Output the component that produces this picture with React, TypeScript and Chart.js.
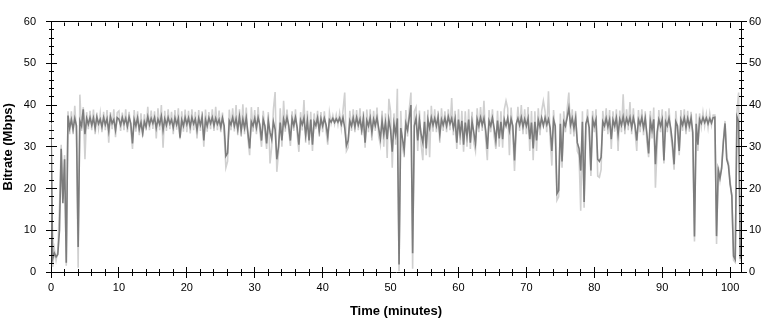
import React, { useEffect, useRef } from 'react';
import { Chart, registerables } from 'chart.js';

Chart.register(...registerables);

// sample spacing of the series (minutes)
const SAMPLE_STEP = 0.25;
const X_MIN = 0;
const X_MAX = 101.6;
const Y_MIN = 0;
const Y_MAX = 60;
const X_MAJOR = 10;
const X_MINOR = 2;
const Y_MAJOR = 10;
const Y_MINOR = 2;

const X_TITLE = 'Time (minutes)';
const Y_TITLE = 'Bitrate (Mbps)';

// Dark series (Mbps), one array per 10 minutes
const dark00 = [
  35.3, 3.2, 4.5, 3.6, 4.2, 10, 29.5, 16.5,
  27, 2.2, 37.5, 34.5, 36.5, 34.2, 36.8, 35.0,
  6.0, 36.2, 35.0, 39.0, 33.0, 36.8, 35.4, 37.0,
  35.2, 36.9, 34.5, 37.1, 35.5, 36.6, 34.8, 37.0,
  35.3, 36.7, 33.8, 37.2, 35.6, 36.5, 34.0, 37.0,
];
const dark10 = [
  36.6, 35.2, 37.0, 35.5, 36.8, 34.9, 37.1, 35.6,
  30.8, 36.5, 35.0, 36.9, 34.2, 35.8, 33.2, 36.0,
  34.8, 37.2, 35.3, 36.8, 35.6, 37.0, 34.5, 36.6,
  35.4, 37.3, 34.0, 36.7, 35.2, 37.0, 35.5, 36.5,
  34.6, 36.9, 35.3, 36.8, 32.2, 36.4, 35.0, 37.0,
];
const dark20 = [
  35.4, 36.9, 34.8, 37.0, 35.5, 36.6, 34.0, 36.8,
  35.2, 37.1, 31.5, 36.5, 35.0, 36.9, 35.6, 37.0,
  35.1, 36.8, 35.4, 36.5, 34.7, 36.9, 35.0, 27.8,
  28.5, 36.2, 35.3, 37.0, 35.0, 36.7, 34.2, 37.2,
  33.8, 36.6, 34.5, 36.9, 33.2, 29.6, 36.0, 35.0,
];
const dark30 = [
  36.8, 34.6, 37.0, 35.3, 31.5, 36.5, 35.0, 30.8,
  36.2, 33.5, 31.8, 36.0, 34.2, 27.0, 30.0, 35.8,
  31.5, 36.6, 35.0, 37.0, 35.2, 31.5, 36.7, 35.1,
  37.0, 34.6, 30.5, 36.4, 35.3, 36.9, 32.8, 36.2,
  31.5, 36.5, 30.5, 36.0, 35.1, 36.9, 33.8, 36.7,
];
const dark40 = [
  35.0, 36.8, 35.3, 32.5, 36.5, 35.9, 36.8, 35.8,
  36.7, 35.9, 36.9, 35.4, 37.0, 34.5, 30.3, 31.5,
  36.2, 35.0, 36.9, 34.8, 37.0, 35.2, 36.6, 34.0,
  36.8, 31.0, 36.3, 35.0, 36.9, 33.5, 36.6, 35.1,
  37.0, 34.5, 32.0, 36.2, 33.0, 35.8, 31.8, 36.5,
];
const dark50 = [
  34.0, 28.8, 35.5, 33.0, 36.8, 1.8, 34.5, 32.0,
  29.2, 35.6, 34.0, 37.0, 40.0, 4.5, 35.0, 36.8,
  31.5, 36.4, 33.0, 31.0, 36.0, 29.6, 36.5, 34.5,
  37.0, 35.2, 36.8, 35.0, 37.1, 33.0, 36.5, 35.2,
  36.9, 35.0, 37.2, 35.5, 36.8, 34.5, 36.6, 31.0,
];
const dark60 = [
  36.5, 33.0, 36.2, 30.5, 35.8, 32.5, 36.5, 31.0,
  36.0, 33.5, 30.8, 36.6, 35.0, 37.0, 35.2, 36.8,
  34.0, 29.5, 36.2, 35.0, 36.9, 34.5, 31.5, 36.3,
  32.0, 36.0, 31.8, 36.5, 35.0, 36.9, 34.0, 36.7,
  35.0, 26.7, 35.5, 36.8, 35.2, 37.0, 34.8, 36.6,
];
const dark70 = [
  35.0, 36.8, 31.8, 35.8, 29.6, 36.0, 31.5, 36.4,
  34.8, 36.9, 35.0, 37.0, 35.3, 36.6, 34.5, 29.0,
  36.5, 35.0, 18.8, 19.5, 35.5, 26.5, 36.0, 35.0,
  37.0, 39.3, 35.2, 36.8, 34.5, 36.9, 31.0, 29.6,
  24.3, 36.0, 16.8, 35.5, 36.8, 34.6, 24.3, 36.5,
];
const dark80 = [
  35.0, 36.5, 27.0, 26.5, 27.5, 36.0, 35.0, 36.8,
  34.8, 36.5, 31.8, 36.4, 35.0, 36.9, 33.0, 36.6,
  35.2, 37.2, 34.8, 36.8, 35.5, 37.0, 34.6, 36.9,
  35.0, 31.5, 36.5, 35.3, 37.0, 34.5, 36.8, 33.0,
  28.4, 36.2, 34.0, 36.6, 25.8, 33.5, 36.5, 35.0,
];
const dark90 = [
  36.5, 26.7, 36.0, 35.0, 36.8, 34.5, 31.0, 25.8,
  36.0, 35.0, 29.0, 36.5, 35.2, 36.9, 34.6, 36.8,
  35.0, 36.9, 33.5, 8.5, 35.5, 30.5, 36.6, 35.6,
  37.0, 35.8, 36.9, 35.5, 36.8, 35.7, 37.0, 37.1,
  8.6, 24.5, 22.5, 24.8, 31.0, 35.6, 27.0, 25.5,
];
const dark100 = [21.0, 18.3, 3.8, 3.0, 37.2, 36.0, 3.2];

// Light series (Mbps), one array per 10 minutes
const light00 = [
  35.8, 1.2, 5.5, 2.8, 5.0, 15.5, 30.5, 17.5,
  28, 1.5, 38.5, 33.0, 38.5, 33.0, 39.8, 33.5,
  1.0, 42.5, 33.8, 39.5, 27.0, 38.3, 34.2, 38.6,
  34.0, 38.9, 33.0, 38.2, 34.5, 38.0, 33.5, 38.4,
  34.0, 38.8, 31.0, 38.3, 34.2, 39.0, 32.3, 38.2,
];
const light10 = [
  38.6, 33.8, 38.2, 34.0, 39.0, 33.5, 38.4, 34.2,
  29.5, 38.8, 33.6, 38.5, 32.8, 38.0, 32.4, 37.8,
  33.9, 39.6, 34.0, 38.7, 34.3, 38.5, 32.0, 39.2,
  34.0, 40.0, 29.8, 38.6, 33.8, 39.0, 34.2, 38.4,
  33.0, 38.8, 34.1, 39.2, 31.8, 38.5, 33.6, 38.9,
];
const light20 = [
  33.5, 38.6, 33.2, 39.0, 34.0, 38.4, 32.0, 38.8,
  33.8, 38.5, 30.0, 38.9, 33.6, 38.3, 34.2, 39.0,
  33.8, 39.6, 34.0, 38.7, 33.5, 38.2, 33.0, 25.0,
  26.5, 38.9, 34.0, 39.2, 33.7, 40.0, 32.8, 39.0,
  32.5, 40.2, 33.0, 39.4, 32.0, 28.0, 39.5, 33.6,
];
const light30 = [
  38.8, 33.0, 39.5, 33.8, 30.0, 38.6, 33.5, 29.5,
  38.3, 26.0, 30.0, 39.0, 43.1, 24.0, 28.5, 39.2,
  30.0, 41.0, 33.6, 38.9, 34.0, 30.2, 38.5, 33.8,
  39.0, 33.0, 28.8, 38.3, 33.9, 41.2, 31.0, 38.6,
  30.5, 38.4, 29.0, 38.0, 34.2, 38.6, 32.5, 38.3,
];
const light40 = [
  33.5, 38.5, 33.8, 30.5, 38.2, 35.6, 37.5, 35.4,
  37.6, 35.3, 38.0, 34.5, 38.8, 43.0, 29.0, 29.8,
  38.6, 33.8, 39.0, 33.5, 38.8, 34.0, 39.2, 32.8,
  38.5, 29.8, 38.9, 33.5, 39.0, 31.5, 38.6, 33.8,
  39.4, 32.5, 30.5, 38.6, 30.0, 38.0, 27.3, 41.5,
];
const light50 = [
  38.5, 25.0, 38.0, 30.5, 43.9, 0.2, 38.6, 30.0,
  27.5, 38.8, 32.5, 39.0, 43.0, 0.8, 38.5, 39.5,
  29.0, 38.7, 30.5, 26.8, 38.5, 28.0, 38.9, 27.5,
  39.8, 33.6, 39.0, 33.5, 38.6, 31.0, 39.2, 33.8,
  38.5, 33.5, 39.0, 34.0, 41.7, 32.8, 38.6, 29.5,
];
const light60 = [
  39.0, 30.5, 38.6, 28.8, 38.5, 30.0, 39.0, 29.5,
  38.4, 31.0, 29.0, 39.2, 33.5, 39.5, 33.8, 41.0,
  32.0, 26.8, 38.8, 33.5, 39.0, 32.5, 29.5, 38.6,
  30.0, 38.5, 29.8, 39.0, 41.0, 39.2, 28.0, 39.4,
  33.0, 24.2, 33.5, 39.6, 33.8, 40.0, 33.0, 39.0,
];
const light70 = [
  33.0, 39.5, 29.0, 38.6, 26.8, 38.5, 29.0, 39.2,
  32.8, 38.6, 41.0, 38.5, 33.5, 43.3, 32.0, 25.5,
  38.8, 33.0, 17.2, 18.0, 38.0, 25.0, 38.5, 33.5,
  39.0, 43.0, 33.0, 39.0, 32.5, 38.6, 29.0, 28.0,
  14.7, 38.5, 15.4, 34.0, 39.0, 33.0, 23.0, 38.6,
];
const light80 = [
  33.5, 39.0, 23.0, 22.7, 24.5, 38.6, 33.8, 39.2,
  33.0, 38.8, 29.5, 38.5, 33.6, 39.0, 29.0, 38.7,
  33.5, 42.6, 33.0, 39.0, 34.0, 40.7, 33.0, 39.2,
  33.8, 29.0, 38.8, 33.5, 39.0, 32.8, 38.5, 31.0,
  27.5, 38.6, 32.0, 39.4, 20.2, 30.0, 38.8, 33.5,
];
const light90 = [
  39.0, 26.0, 38.5, 33.5, 39.2, 33.0, 29.5, 24.5,
  38.6, 33.5, 28.0, 38.8, 33.8, 39.0, 33.0, 38.6,
  33.6, 38.4, 32.0, 7.3, 38.0, 29.0, 38.0, 34.8,
  38.2, 35.0, 37.8, 34.6, 38.0, 35.2, 37.6, 37.6,
  6.7, 25.2, 22.0, 25.4, 31.5, 36.2, 27.4, 26.2,
];
const light100 = [21.8, 18.0, 2.8, 2.3, 38.5, 43.0, 2.5];

const darkValues = [
  ...dark00, ...dark10, ...dark20, ...dark30, ...dark40, ...dark50,
  ...dark60, ...dark70, ...dark80, ...dark90, ...dark100,
];
const lightValues = [
  ...light00, ...light10, ...light20, ...light30, ...light40, ...light50,
  ...light60, ...light70, ...light80, ...light90, ...light100,
];

const toPoints = (vals: number[]) => vals.map((v, i) => ({ x: i * SAMPLE_STEP, y: v }));

const FONT = "'Liberation Sans', Arial, sans-serif";

const axisTicksPlugin = {
  id: 'axisTicks',
  afterDraw(chart: any) {
    const { ctx, chartArea: a, scales } = chart;
    const xs = scales.x;
    const ys = scales.y;
    ctx.save();
    ctx.strokeStyle = '#000';
    ctx.lineWidth = 1;
    ctx.beginPath();
    const L = Math.round(a.left) + 0.5;
    const R = Math.round(a.right) + 0.5;
    const T = Math.round(a.top) + 0.5;
    const B = Math.round(a.bottom) + 0.5;
    for (let v = Y_MIN; v <= Y_MAX + 1e-9; v += Y_MINOR) {
      const py = Math.round(ys.getPixelForValue(v) - 0.5) + 0.5;
      const major = Math.abs(v % Y_MAJOR) < 1e-9;
      const len = major ? 5 : 2;
      ctx.moveTo(L - len - 0.5, py);
      ctx.lineTo(L + len + 0.5, py);
      ctx.moveTo(R - len - 0.5, py);
      ctx.lineTo(R + len + 0.5, py);
    }
    for (let v = X_MIN; v <= X_MAX + 1e-9; v += X_MINOR) {
      const px = Math.round(xs.getPixelForValue(v) - 0.5) + 0.5;
      const major = Math.abs(v % X_MAJOR) < 1e-9;
      const len = major ? 5 : 3;
      ctx.moveTo(px, B - len - 0.5);
      ctx.lineTo(px, B + len + 0.5);
      ctx.moveTo(px, T);
      ctx.lineTo(px, T + len + 0.5);
    }
    ctx.stroke();
    ctx.restore();
  },
};

export default function App() {
  const canvasRef = useRef<HTMLCanvasElement | null>(null);

  useEffect(() => {
    const canvas = canvasRef.current;
    if (!canvas) return;
    const tickFont = { family: FONT, size: 11 };
    const titleFont = { family: FONT, size: 13, weight: 'bold' as const };
    const chart = new Chart(canvas, {
      type: 'line',
      data: {
        datasets: [
          {
            label: 'dark',
            data: toPoints(darkValues),
            borderColor: '#7c7c7c',
            borderWidth: 1.6,
            pointRadius: 0,
            tension: 0,
            fill: false,
          },
          {
            label: 'light',
            data: toPoints(lightValues),
            borderColor: '#d0d0d0',
            borderWidth: 1.6,
            pointRadius: 0,
            tension: 0,
            fill: false,
          },
        ],
      },
      options: {
        animation: false,
        responsive: true,
        maintainAspectRatio: false,
        events: [],
        layout: { padding: 0 },
        plugins: { legend: { display: false }, tooltip: { enabled: false } },
        scales: {
          x: {
            type: 'linear',
            position: 'bottom',
            min: X_MIN,
            max: X_MAX,
            ticks: {
              stepSize: X_MAJOR,
              includeBounds: false,
              autoSkip: false,
              maxRotation: 0,
              padding: 9,
              color: '#000',
              font: tickFont,
            },
            grid: { display: false, drawTicks: false },
            border: { display: true, color: '#000', width: 1 },
            title: {
              display: true,
              text: X_TITLE,
              color: '#000',
              font: titleFont,
              padding: { top: 0, bottom: 3 },
            },
            afterFit: (s: any) => { s.height = 50; },
          },
          x2: {
            type: 'linear',
            position: 'top',
            min: X_MIN,
            max: X_MAX,
            ticks: { display: false },
            grid: { display: false, drawTicks: false },
            border: { display: true, color: '#000', width: 1 },
            afterFit: (s: any) => { s.height = 10; },
          },
          y: {
            type: 'linear',
            position: 'left',
            min: Y_MIN,
            max: Y_MAX,
            ticks: {
              stepSize: Y_MAJOR,
              padding: 15,
              color: '#000',
              font: tickFont,
            },
            grid: { display: false, drawTicks: false },
            border: { display: true, color: '#000', width: 1 },
            title: {
              display: true,
              text: Y_TITLE,
              color: '#000',
              font: titleFont,
              padding: { top: 1, bottom: 0 },
            },
            afterFit: (s: any) => { s.width = 51; },
          },
          y2: {
            type: 'linear',
            position: 'right',
            min: Y_MIN,
            max: Y_MAX,
            ticks: {
              stepSize: Y_MAJOR,
              padding: 8,
              color: '#000',
              font: tickFont,
            },
            grid: { display: false, drawTicks: false },
            border: { display: true, color: '#000', width: 1 },
            afterFit: (s: any) => { s.width = 32; },
          },
        },
      } as any,
      plugins: [axisTicksPlugin],
    });
    return () => chart.destroy();
  }, []);

  return (
    <div style={{ position: 'fixed', left: 0, top: 0, width: 773, height: 322, background: '#fff' }}>
      <canvas ref={canvasRef} style={{ display: 'block' }} />
    </div>
  );
}
